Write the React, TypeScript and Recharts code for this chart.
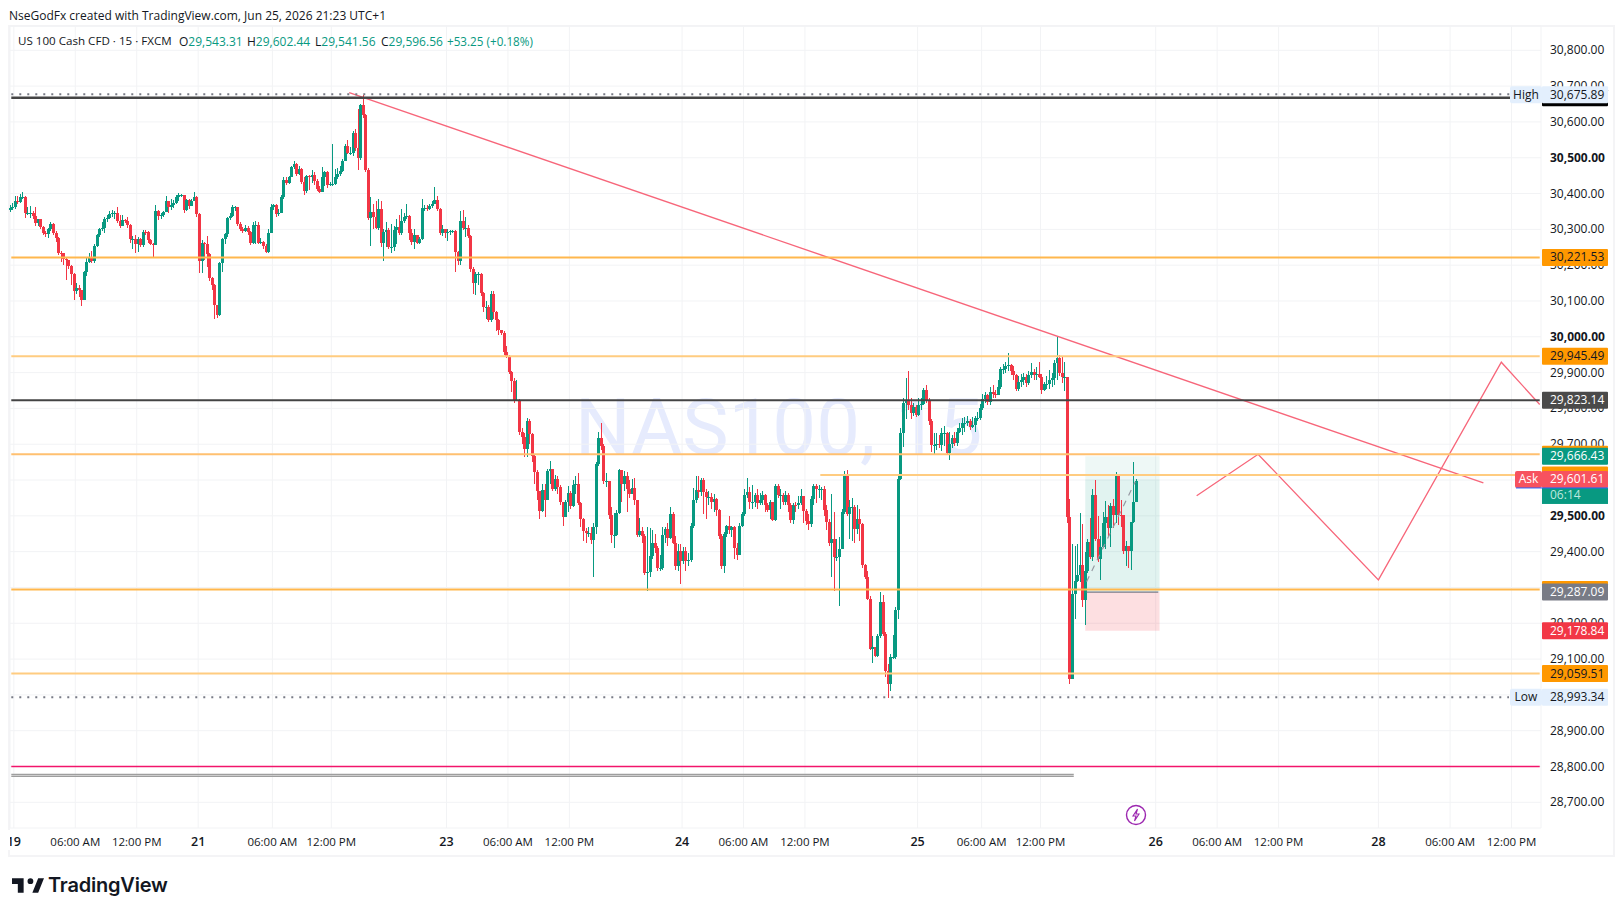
import React from "react";
import {
  Bar,
  CartesianGrid,
  ComposedChart,
  Line,
  ReferenceArea,
  ReferenceLine,
  XAxis,
  YAxis,
} from "recharts";

// 15 minute candles. Open is the previous close.
const firstOpen = 30355;
const closes = [
  30359, 30363, 30380, 30377, 30390, 30391, 30345, 30345, 30345, 30337,
  30317, 30328, 30308, 30291, 30286, 30300, 30315, 30291, 30275, 30235,
  30233, 30216, 30214, 30199, 30175, 30129, 30135, 30130, 30103, 30181,
  30210, 30224, 30212, 30254, 30284, 30300, 30303, 30329, 30331, 30343,
  30347, 30347, 30322, 30310, 30326, 30324, 30312, 30273, 30273, 30259,
  30273, 30255, 30294, 30292, 30270, 30259, 30255, 30352, 30338, 30340,
  30349, 30380, 30362, 30368, 30375, 30389, 30395, 30395, 30354, 30382,
  30366, 30380, 30389, 30342, 30212, 30263, 30259, 30231, 30163, 30145,
  30089, 30061, 30205, 30273, 30287, 30331, 30337, 30362, 30362, 30314,
  30301, 30296, 30303, 30294, 30261, 30312, 30312, 30263, 30266, 30254,
  30238, 30291,
  30363, 30368, 30343, 30346, 30389, 30438, 30430, 30445, 30473, 30482,
  30456, 30468, 30433, 30408, 30449, 30447, 30452, 30436, 30414, 30405,
  30447, 30459, 30424, 30426, 30426, 30445, 30456, 30464, 30491, 30533,
  30514, 30514, 30568, 30526, 30498, 30647, 30619, 30466, 30331, 30349,
  30335, 30304, 30356, 30263, 30293, 30298, 30251, 30251, 30298, 30307,
  30289, 30323, 30335, 30337, 30291, 30265, 30284, 30261, 30273, 30361,
  30361, 30356, 30365, 30371, 30382, 30357, 30289, 30300, 30289, 30293,
  30295, 30295, 30237, 30212, 30324, 30303, 30303, 30282, 30188, 30151,
  30175, 30175, 30121, 30084, 30084, 30047, 30119, 30070, 30048, 30019,
  30011, 29958, 29946, 29902, 29877, 29823, 29823, 29735, 29721, 29686,
  29764, 29728, 29668, 29623, 29570, 29514, 29572, 29544, 29624, 29632,
  29576, 29604, 29581, 29539, 29497, 29539, 29565, 29527, 29586, 29590,
  29536, 29492, 29458, 29451, 29451, 29432, 29469,
  29646, 29718, 29694, 29597, 29597, 29503, 29446, 29446, 29509, 29627,
  29590, 29611, 29576, 29562, 29578, 29543, 29446, 29458, 29444, 29339,
  29343, 29388, 29423, 29411, 29355, 29355, 29446, 29464, 29438, 29504,
  29425, 29360, 29402, 29374, 29402, 29374, 29376, 29472, 29543, 29571,
  29567, 29599, 29567, 29553, 29553, 29539, 29548, 29516, 29444, 29359,
  29448, 29472, 29460, 29469, 29411, 29390, 29472, 29506, 29557, 29567,
  29539, 29539, 29557, 29537, 29545, 29559, 29531, 29516, 29539, 29489,
  29583, 29559, 29559, 29539, 29557, 29531, 29488, 29531, 29530, 29537,
  29556, 29513, 29485, 29476, 29548, 29584, 29574, 29575, 29576, 29516,
  29483, 29424, 29436, 29385, 29385, 29408, 29511, 29613, 29504, 29525,
  29525, 29464, 29492, 29478, 29362, 29329, 29269, 29129, 29134, 29109,
  29165, 29260, 29171, 29066, 29031, 29106, 29106, 29236, 29604, 29730,
  29816, 29823, 29809, 29788, 29804, 29783, 29809, 29813, 29851, 29823,
  29764, 29697, 29697, 29702, 29697, 29730, 29730, 29676, 29702, 29718,
  29704, 29734, 29745, 29758, 29758, 29764, 29748, 29753, 29772, 29773,
  29800, 29827, 29837, 29818, 29846, 29841, 29837,
  29861, 29909, 29909, 29918, 29921, 29905, 29893, 29853, 29875, 29879,
  29887, 29870, 29893, 29903, 29893, 29896, 29889, 29851, 29867, 29867,
  29879, 29885, 29928, 29940, 29900, 29889, 29889,
  29496, 29045, 29282, 29317, 29335, 29364, 29264, 29347, 29428, 29385,
  29557, 29434, 29380, 29413, 29480, 29496, 29466, 29527, 29503, 29611,
  29503, 29501, 29401, 29415, 29401, 29482, 29538, 29597,
];
const highs = [
  30368, 30375, 30392, 30392, 30398, 30403, 30392, 30363, 30365, 30350,
  30362, 30330, 30330, 30310, 30295, 30305, 30320, 30318, 30295, 30278,
  30240, 30233, 30222, 30215, 30200, 30178, 30150, 30144, 30132, 30183,
  30220, 30233, 30240, 30258, 30288, 30305, 30320, 30335, 30340, 30350,
  30355, 30352, 30363, 30340, 30340, 30330, 30335, 30315, 30282, 30285,
  30280, 30275, 30297, 30298, 30295, 30272, 30262, 30367, 30355, 30345,
  30352, 30392, 30380, 30385, 30382, 30397, 30402, 30398, 30397, 30385,
  30385, 30385, 30403, 30392, 30345, 30270, 30265, 30282, 30235, 30168,
  30148, 30090, 30210, 30276, 30290, 30335, 30345, 30368, 30365, 30362,
  30320, 30308, 30312, 30310, 30296, 30320, 30323, 30320, 30275, 30268,
  30258, 30300,
  30372, 30372, 30372, 30358, 30395, 30445, 30446, 30450, 30478, 30490,
  30486, 30478, 30472, 30445, 30452, 30452, 30466, 30460, 30440, 30420,
  30473, 30464, 30462, 30433, 30538, 30468, 30470, 30478, 30497, 30538,
  30550, 30530, 30575, 30580, 30636, 30650, 30676, 30622, 30470, 30390,
  30370, 30380, 30385, 30380, 30300, 30320, 30305, 30315, 30310, 30328,
  30340, 30356, 30345, 30370, 30340, 30300, 30300, 30285, 30280, 30386,
  30368, 30368, 30370, 30380, 30418, 30392, 30360, 30312, 30302, 30300,
  30298, 30298, 30298, 30240, 30352, 30354, 30335, 30312, 30285, 30195,
  30180, 30180, 30178, 30125, 30100, 30090, 30128, 30128, 30072, 30050,
  30020, 30015, 29975, 29950, 29905, 29885, 29880, 29825, 29745, 29730,
  29772, 29770, 29730, 29670, 29628, 29570, 29590, 29590, 29630, 29652,
  29630, 29615, 29610, 29585, 29540, 29545, 29582, 29570, 29600, 29612,
  29620, 29540, 29495, 29465, 29470, 29470, 29480,
  29650, 29734, 29760, 29700, 29620, 29590, 29525, 29508, 29515, 29630,
  29620, 29625, 29622, 29600, 29604, 29605, 29545, 29494, 29470, 29448,
  29470, 29465, 29460, 29450, 29415, 29390, 29470, 29470, 29480, 29525,
  29510, 29445, 29420, 29420, 29412, 29412, 29395, 29480, 29578, 29612,
  29610, 29605, 29605, 29575, 29570, 29565, 29560, 29550, 29520, 29450,
  29455, 29475, 29500, 29473, 29472, 29425, 29480, 29510, 29575, 29606,
  29580, 29585, 29565, 29575, 29565, 29570, 29560, 29535, 29545, 29540,
  29590, 29590, 29575, 29565, 29570, 29565, 29535, 29535, 29540, 29555,
  29575, 29555, 29520, 29505, 29555, 29590, 29590, 29585, 29580, 29582,
  29530, 29490, 29562, 29510, 29435, 29440, 29520, 29625, 29627, 29545,
  29550, 29530, 29530, 29520, 29480, 29365, 29345, 29275, 29165, 29135,
  29170, 29286, 29280, 29175, 29085, 29115, 29166, 29245, 29610, 29745,
  29830, 29884, 29905, 29830, 29815, 29810, 29830, 29830, 29858, 29865,
  29830, 29770, 29730, 29730, 29725, 29745, 29750, 29735, 29735, 29725,
  29735, 29745, 29760, 29772, 29775, 29780, 29770, 29775, 29780, 29790,
  29812, 29840, 29845, 29840, 29860, 29865, 29852,
  29880, 29915, 29925, 29930, 29954, 29925, 29918, 29895, 29890, 29895,
  29900, 29895, 29905, 29926, 29910, 29915, 29930, 29895, 29875, 29890,
  29908, 29900, 29935, 30000, 29950, 29945, 29929,
  29889, 29548, 29422, 29417, 29420, 29508, 29478, 29399, 29434, 29494,
  29576, 29599, 29500, 29445, 29510, 29541, 29529, 29536, 29548, 29622,
  29611, 29543, 29503, 29431, 29415, 29482, 29650, 29602,
];
const lows = [
  30349, 30355, 30358, 30370, 30375, 30385, 30331, 30340, 30332, 30330,
  30310, 30310, 30300, 30285, 30280, 30275, 30295, 30285, 30265, 30228,
  30210, 30200, 30158, 30190, 30145, 30103, 30120, 30110, 30087, 30103,
  30170, 30205, 30205, 30205, 30250, 30280, 30296, 30290, 30320, 30328,
  30335, 30330, 30318, 30305, 30310, 30318, 30305, 30262, 30245, 30235,
  30238, 30250, 30250, 30285, 30262, 30255, 30222, 30255, 30325, 30330,
  30335, 30348, 30345, 30355, 30360, 30370, 30380, 30390, 30345, 30350,
  30358, 30365, 30378, 30335, 30177, 30178, 30215, 30195, 30155, 30130,
  30050, 30052, 30058, 30180, 30260, 30280, 30325, 30335, 30350, 30310,
  30295, 30290, 30292, 30285, 30255, 30260, 30258, 30260, 30258, 30245,
  30233, 30235,
  30290, 30355, 30335, 30338, 30345, 30385, 30425, 30428, 30445, 30468,
  30450, 30452, 30426, 30396, 30402, 30410, 30430, 30425, 30408, 30402,
  30405, 30420, 30415, 30420, 30420, 30425, 30440, 30450, 30460, 30490,
  30510, 30508, 30505, 30520, 30466, 30495, 30610, 30460, 30325, 30253,
  30300, 30300, 30298, 30250, 30212, 30250, 30245, 30233, 30240, 30260,
  30283, 30285, 30318, 30328, 30270, 30255, 30245, 30258, 30258, 30270,
  30352, 30350, 30355, 30360, 30370, 30350, 30283, 30282, 30275, 30268,
  30285, 30290, 30182, 30200, 30200, 30298, 30280, 30275, 30180, 30120,
  30118, 30145, 30115, 30070, 30050, 30040, 30040, 30050, 30015, 30005,
  30004, 29950, 29942, 29895, 29845, 29815, 29820, 29725, 29700, 29665,
  29665, 29700, 29650, 29590, 29545, 29492, 29510, 29497, 29544, 29590,
  29570, 29570, 29560, 29530, 29471, 29500, 29510, 29520, 29525, 29560,
  29530, 29470, 29430, 29425, 29440, 29420, 29329,
  29450, 29640, 29685, 29590, 29580, 29490, 29424, 29410, 29445, 29505,
  29540, 29570, 29510, 29550, 29560, 29530, 29440, 29440, 29425, 29335,
  29290, 29330, 29380, 29395, 29345, 29345, 29350, 29425, 29415, 29435,
  29420, 29350, 29345, 29311, 29365, 29345, 29360, 29370, 29465, 29535,
  29550, 29555, 29505, 29490, 29530, 29520, 29510, 29500, 29435, 29352,
  29340, 29440, 29450, 29440, 29380, 29378, 29390, 29470, 29500, 29550,
  29520, 29520, 29525, 29520, 29530, 29530, 29510, 29510, 29490, 29485,
  29485, 29550, 29520, 29530, 29530, 29510, 29480, 29478, 29510, 29520,
  29530, 29480, 29475, 29460, 29470, 29530, 29535, 29550, 29545, 29500,
  29460, 29415, 29328, 29290, 29375, 29248, 29408, 29505, 29500, 29435,
  29430, 29425, 29450, 29430, 29355, 29325, 29265, 29125, 29090, 29105,
  29105, 29160, 29165, 29050, 28990, 29010, 29100, 29100, 29213, 29600,
  29692, 29770, 29795, 29770, 29780, 29775, 29780, 29795, 29810, 29815,
  29755, 29677, 29670, 29685, 29690, 29680, 29695, 29670, 29657, 29690,
  29695, 29695, 29730, 29725, 29735, 29750, 29740, 29745, 29733, 29765,
  29768, 29795, 29815, 29810, 29810, 29830, 29830,
  29845, 29855, 29895, 29900, 29905, 29893, 29880, 29850, 29850, 29860,
  29865, 29860, 29865, 29885, 29880, 29880, 29885, 29840, 29850, 29855,
  29855, 29860, 29865, 29880, 29890, 29870, 29850,
  29481, 29031, 29045, 29212, 29315, 29315, 29245, 29196, 29340, 29380,
  29375, 29430, 29370, 29321, 29410, 29408, 29445, 29413, 29466, 29481,
  29475, 29468, 29394, 29360, 29355, 29349, 29481, 29538,
];

const slotCount = 598;
const priceTicks = [
  28700, 28800, 28900, 29000, 29100, 29200, 29300, 29400, 29500, 29600, 29700,
  29800, 29900, 30000, 30100, 30200, 30300, 30400, 30500, 30600, 30700, 30800,
];
const priceDomain = [28628.3, 30867.9];
const timeSlots = [1, 25, 49, 73, 102, 125, 170, 194, 218, 262, 286, 310, 354, 379, 402, 447, 471, 495, 534, 562, 586];
const timeLabels = [
  "19", "06:00 AM", "12:00 PM", "21", "06:00 AM", "12:00 PM", "23", "06:00 AM", "12:00 PM",
  "24", "06:00 AM", "12:00 PM", "25", "06:00 AM", "12:00 PM", "26", "06:00 AM", "12:00 PM",
  "28", "06:00 AM", "12:00 PM",
];

// drawings on the chart
const trendSlots = [132, 575];
const trendPrices = [30682, 29592];
const zigSlots = [463, 487, 534, 582, 597];
const zigPrices = [29556, 29672, 29321, 29929, 29811];
const dashSlots = [420, 439];
const dashPrices = [29316, 29595];

const GREEN = "#089981";
const RED = "#f23645";
const ORANGE = "#ff9800";
const FONT = "'Open Sans', sans-serif";
const MARGIN = { top: 26, right: 10, bottom: 61, left: 10 };

const tableRows = Array.from({ length: slotCount }, (_, slot) => {
  const row: any = { slot };
  if (slot < closes.length) {
    const open = slot === 0 ? firstOpen : closes[slot - 1];
    const close = closes[slot];
    const high = Math.max(highs[slot], open, close);
    const low = Math.min(lows[slot], open, close);
    row.open = open;
    row.close = close;
    row.high = high;
    row.low = low;
    row.range = [low, high];
  }
  const z = zigSlots.indexOf(slot);
  if (z >= 0) row.zig = zigPrices[z];
  const t = trendSlots.indexOf(slot);
  if (t >= 0) row.trend = trendPrices[t];
  const d = dashSlots.indexOf(slot);
  if (d >= 0) row.dash = dashPrices[d];
  return row;
});

const Candle = (props: any) => {
  const { x, y, width, height, payload } = props;
  if (payload.range == null) return null;
  const { open, close, high, low } = payload;
  const perPoint = height / (high - low);
  const center = Math.round(x + width / 2) - 2;
  const top = y + (high - Math.max(open, close)) * perPoint;
  const bodyHeight = Math.max(Math.abs(open - close) * perPoint, 1);
  const color = close >= open ? GREEN : RED;
  return (
    <g shapeRendering="crispEdges">
      <rect x={center} y={y} width={1} height={height} fill={color} />
      <rect x={center - 1} y={top} width={3} height={bodyHeight} fill={color} />
    </g>
  );
};

const PriceTick = (props: any) => {
  const { y, payload } = props;
  const bold = payload.value % 500 === 0;
  return (
    <text x={1550} y={y + 4} fontSize={12} fontFamily={FONT} fontWeight={bold ? 700 : 400} fill="#131722">
      {payload.value.toLocaleString("en-US", { minimumFractionDigits: 2 })}
    </text>
  );
};

const TimeTick = (props: any) => {
  const { x, y, payload } = props;
  const label = timeLabels[timeSlots.indexOf(payload.value)];
  const isDay = label.length < 3;
  return (
    <text x={x} y={y + 10} textAnchor="middle" fontSize={isDay ? 12.5 : 11.5} fontWeight={isDay ? 600 : 400} fontFamily={FONT} fill="#131722">
      {label}
    </text>
  );
};

const badge = (text: string, bg: string, fg: string, tag?: string, extra?: string) => (props: any) => {
  const cy = props.viewBox.y;
  return (
    <g fontFamily={FONT} fontSize={12}>
      {tag && <rect x={tag === "Ask" ? 1515 : 1510} y={cy - 8.5} width={tag === "Ask" ? 27 : 32} height={17} rx={2} fill={bg} />}
      {tag && (
        <text x={tag === "Ask" ? 1528.5 : 1526} y={cy + 4} textAnchor="middle" fill={fg}>
          {tag}
        </text>
      )}
      <rect x={1542} y={cy - 8.5} width={66} height={17} rx={1} fill={bg} />
      {text && (
        <text x={1550} y={cy + 4} fill={fg}>
          {text}
        </text>
      )}
      {extra && <rect x={1542} y={cy + 8.5} width={66} height={16} fill={GREEN} />}
      {extra && <rect x={1516} y={cy + 8} width={92} height={1} fill="#2962ff" />}
      {extra && (
        <text x={1550} y={cy + 20} fill="#bfe8df">
          {extra}
        </text>
      )}
    </g>
  );
};

const level = (y: number, stroke: string, width: number, from: number, dash?: string) => (
  <ReferenceLine
    key={`${y}-${stroke}`}
    segment={[{ x: from, y }, { x: slotCount - 1, y }]}
    stroke={stroke}
    strokeWidth={width}
    strokeDasharray={dash}
  />
);

const tag = (y: number, label: any) => (
  <ReferenceLine key={`tag-${y}`} y={y} stroke="none" ifOverflow="visible" label={label} />
);

const App = () => {
  return (
    <div style={{ position: "absolute", left: 0, top: 0, width: 1623, height: 916, background: "#fff", overflow: "hidden", fontFamily: FONT, color: "#131722" }}>
      <div style={{ position: "absolute", left: 9, top: 7, fontSize: 12 }}>NseGodFx created with TradingView.com, Jun 25, 2026 21:23 UTC+1</div>
      <div style={{ position: "absolute", left: 8, top: 25, width: 1603, height: 828, border: "2px solid #f4f4f6" }} />
      <div style={{ position: "absolute", left: 575, top: 382, fontSize: 78, fontFamily: "Roboto, sans-serif", color: "#e6ebfd", whiteSpace: "nowrap" }}>NAS100, 15</div>

      <div style={{ position: "absolute", left: 0, top: 0 }}>
        <ComposedChart width={1623} height={916} data={tableRows} barCategoryGap={0} margin={MARGIN}>
          <CartesianGrid stroke="#f2f3f5" strokeWidth={1} />
          <XAxis
            dataKey="slot"
            type="category"
            ticks={timeSlots}
            interval={0}
            height={27}
            axisLine={false}
            tickLine={false}
            tick={<TimeTick />}
          />
          <YAxis
            orientation="right"
            type="number"
            width={72}
            domain={priceDomain}
            ticks={priceTicks}
            interval={0}
            allowDataOverflow
            axisLine={false}
            tickLine={false}
            tick={<PriceTick />}
          />
          <ReferenceArea x1={420} x2={448} y1={29287.09} y2={29601.61} fill={GREEN} fillOpacity={0.12} stroke="none" />
          <ReferenceArea x1={420} x2={448} y1={29601.61} y2={29666.43} fill={GREEN} fillOpacity={0.07} stroke="none" />
          <ReferenceArea x1={420} x2={448} y1={29178.84} y2={29287.09} fill={RED} fillOpacity={0.16} stroke="none" />

          <Bar dataKey="range" shape={<Candle />} isAnimationActive={false} />

          <Line dataKey="dash" stroke="#9598a1" strokeWidth={1.2} strokeDasharray="6 6" dot={false} connectNulls isAnimationActive={false} />
          <Line dataKey="trend" stroke="#f7667a" strokeWidth={1.4} dot={false} connectNulls isAnimationActive={false} />
          <Line dataKey="zig" stroke="#f7667a" strokeWidth={1.3} dot={false} connectNulls isAnimationActive={false} />

          {level(30677, "#787b86", 2, 0, "2 6")}
          {level(30667.6, "#444", 2.4, 0)}
          {level(30221.53, "#ffb74d", 2, 0)}
          {level(29945.49, "#ffcc80", 2, 0)}
          {level(29823.14, "#444", 2, 0)}
          {level(29672, "#ffc070", 2, 0)}
          {level(29614, "#ffcc80", 2, 316)}
          {level(29294, "#ffb74d", 2, 0)}
          {level(29059.51, "#ffcc80", 2, 0)}
          {level(28800, "#f2156b", 1.5, 0)}
          <ReferenceLine segment={[{ x: 0, y: 28778 }, { x: 415, y: 28778 }]} stroke="#9e9e9e" strokeWidth={1.4} />
          <ReferenceLine segment={[{ x: 0, y: 28773 }, { x: 415, y: 28773 }]} stroke="#9e9e9e" strokeWidth={1.4} />
          <ReferenceLine segment={[{ x: 420, y: 29287.09 }, { x: 448, y: 29287.09 }]} stroke="#787b86" strokeWidth={1.2} />
          <ReferenceLine segment={[{ x: 0, y: 28993.34 }, { x: 585, y: 28993.34 }]} stroke="#787b86" strokeWidth={2} strokeDasharray="2 6" />
        </ComposedChart>
      </div>

      {/* second chart on top so that the price tags cover the axis numbers */}
      <div style={{ position: "absolute", left: 0, top: 0 }}>
        <ComposedChart width={1623} height={916} data={tableRows} barCategoryGap={0} margin={MARGIN}>
          <XAxis dataKey="slot" type="category" height={27} axisLine={false} tickLine={false} tick={false} />
          <YAxis orientation="right" type="number" width={72} domain={priceDomain} allowDataOverflow axisLine={false} tickLine={false} tick={false} />
          {tag(30667.6, badge("", "#000", "#fff"))}
          {tag(30675.89, badge("30,675.89", "#e3effd", "#131722", "High"))}
          {tag(30221.53, badge("30,221.53", ORANGE, "#131722"))}
          {tag(29945.49, badge("29,945.49", ORANGE, "#131722"))}
          {tag(29823.14, badge("29,823.14", "#4a4a4a", "#fff"))}
          {tag(29672, badge("", ORANGE, "#fff"))}
          {tag(29666.43, badge("29,666.43", GREEN, "#fff"))}
          {tag(29614, badge("", ORANGE, "#fff"))}
          {tag(29601.61, badge("29,601.61", "#f7525f", "#fff", "Ask", "06:14"))}
          {tag(29294, badge("", ORANGE, "#fff"))}
          {tag(29287.09, badge("29,287.09", "#787b86", "#fff"))}
          {tag(29178.84, badge("29,178.84", RED, "#fff"))}
          {tag(29059.51, badge("29,059.51", ORANGE, "#131722"))}
          {tag(28993.34, badge("28,993.34", "#e3effd", "#131722", "Low"))}
        </ComposedChart>
      </div>

      <div style={{ position: "absolute", left: 0, top: 830, width: 10, height: 20, background: "#fff" }} />

      <div style={{ position: "absolute", left: 0, top: 33, fontSize: 12, whiteSpace: "nowrap" }}>
        <span style={{ position: "absolute", left: 18, fontSize: 11.6 }}>US 100 Cash CFD · 15 · FXCM</span>
        <span style={{ position: "absolute", left: 179 }}>O<span style={{ color: GREEN }}>29,543.31</span></span>
        <span style={{ position: "absolute", left: 247 }}>H<span style={{ color: GREEN }}>29,602.44</span></span>
        <span style={{ position: "absolute", left: 315 }}>L<span style={{ color: GREEN }}>29,541.56</span></span>
        <span style={{ position: "absolute", left: 381 }}>C<span style={{ color: GREEN }}>29,596.56</span></span>
        <span style={{ position: "absolute", left: 447, color: GREEN, fontSize: 11.7 }}>+53.25 (+0.18%)</span>
      </div>

      <svg style={{ position: "absolute", left: 1125, top: 804 }} width={22} height={22} viewBox="0 0 22 22">
        <circle cx={11} cy={11} r={9.5} fill="#fff" stroke="#9c27b0" strokeWidth={1.4} />
        <path d="M12.5 5 L8 12 H11 L9.5 17 L14 10 H11 Z" fill="none" stroke="#9c27b0" strokeWidth={1.1} />
      </svg>

      <svg style={{ position: "absolute", left: 12, top: 878 }} width={32} height={15} viewBox="2 6 33 15">
        <path d="M14 6H2v6h6v9h6V6zm15 15h-6l6-15h6l-6 15zm-8-9a3 3 0 1 0 0-6 3 3 0 0 0 0 6z" fill="#131722" />
      </svg>
      <div style={{ position: "absolute", left: 48, top: 873, fontSize: 20, fontWeight: 600, letterSpacing: -0.2, fontFamily: "Inter, sans-serif", color: "#131722" }}>TradingView</div>
    </div>
  );
};

export default App;
